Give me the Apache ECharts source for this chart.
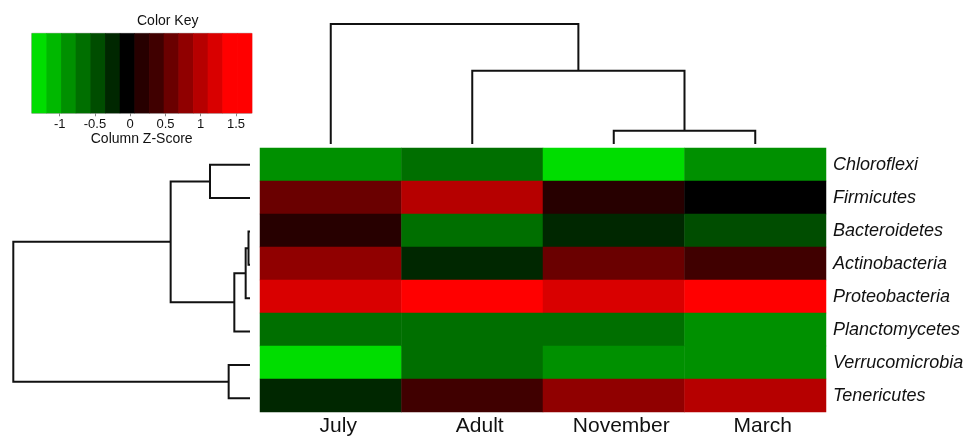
<!DOCTYPE html>
<html>
<head>
<meta charset="utf-8">
<script src="https://cdn.jsdelivr.net/npm/echarts@6/dist/echarts.min.js"></script>
<style>html,body{margin:0;padding:0;background:#fff}#c{width:968px;height:437px}</style>
</head>
<body>
<div id="c"></div>
<script>
// ---- data ----
const months = ['July', 'Adult', 'November', 'March'];
const phyla = ['Chloroflexi', 'Firmicutes', 'Bacteroidetes', 'Actinobacteria', 'Proteobacteria', 'Planctomycetes', 'Verrucomicrobia', 'Tenericutes'];
// column z-scores, one array per column, in phyla order
const zJuly     = [-0.88, 0.58, 0.16, 0.78, 1.20, -0.67, -1.30, -0.26];
const zAdult    = [-0.67, 0.99, -0.70, -0.25, 1.60, -0.66, -0.68, 0.37];
const zNovember = [-1.30, 0.16, -0.26, 0.58, 1.20, -0.67, -0.88, 0.78];
const zMarch    = [-0.88, -0.05, -0.46, 0.37, 1.50, -0.88, -0.88, 0.99];
// color key
const keyBreaks = [-1.397, -1.189, -0.981, -0.773, -0.565, -0.357, -0.149, 0.059, 0.267, 0.475, 0.683, 0.891, 1.099, 1.307, 1.515, 1.723];
const keyColors = ['#00dd00', '#00b800', '#009000', '#006f00', '#004d00', '#002700', '#000000', '#270000', '#400000', '#6a0000', '#900000', '#b60000', '#d90000', '#ff0000', '#ff0000'];
const keyTicks = [-1, -0.5, 0, 0.5, 1, 1.5];
// dendrograms (hclust style: negative = leaf number in display order, positive = earlier merge), height
const colMerges = [[-3, -4, 1.0], [-2, 1, 5.5], [-1, 2, 9.0]];
const rowMerges = [[-3, -4, 0.09], [1, -5, 0.26], [2, -6, 0.94], [-7, -8, 1.28], [-1, -2, 2.40], [5, 3, 4.76], [6, 4, 14.2]];

// ---- build ----
const zCols = [zJuly, zAdult, zNovember, zMarch];
const heatData = [];
zCols.forEach((col, i) => col.forEach((v, j) => heatData.push([i, j, v])));

function dendro(merges) {
  const nodes = [];
  const get = (k) => k < 0 ? [-k - 1, 0] : nodes[k - 1];
  merges.forEach(m => {
    const l = get(m[0]), r = get(m[1]);
    nodes.push([(l[0] + r[0]) / 2, m[2], l[0], l[1], r[0], r[1]]);
  });
  return nodes;
}
const colNodes = dendro(colMerges);
const rowNodes = dendro(rowMerges);

const keyData = keyColors.map((c, i) => [keyBreaks[i], keyBreaks[i + 1], (keyBreaks[i] + keyBreaks[i + 1]) / 2]);
const pieces = keyColors.map((c, i) => (i === keyColors.length - 1
  ? { gte: keyBreaks[i], lte: keyBreaks[i + 1], color: c }
  : { gte: keyBreaks[i], lt: keyBreaks[i + 1], color: c }));

const FONT = 'Liberation Sans, Arial, sans-serif';
const lineStyle = { stroke: '#111', lineWidth: 2, fill: null };

const chart = echarts.init(document.getElementById('c'), null, { renderer: 'canvas' });
chart.setOption({
  animation: false,
  backgroundColor: '#fff',
  textStyle: { fontFamily: FONT },
  graphic: [{
    type: 'text', left: 137, top: 14,
    style: { text: 'Color Key', font: '14px ' + FONT, fill: '#111', textAlign: 'center' }
  }],
  grid: [
    { left: 260, top: 148, width: 566, height: 267 },    // heatmap
    { left: 31.7, top: 33.3, width: 220, height: 80, show: true, borderColor: '#aaa', borderWidth: 1, backgroundColor: 'transparent' },   // key
    { left: 260, top: 24, width: 566, height: 120 },     // column dendrogram
    { left: 13.3, top: 148, width: 236.7, height: 267 }  // row dendrogram
  ],
  xAxis: [
    { type: 'category', data: months, gridIndex: 0, position: 'bottom',
      axisLine: { show: false }, axisTick: { show: false }, splitLine: { show: false },
      axisLabel: { fontSize: 21, color: '#111', margin: 4, padding: [0, 0, 0, 15], fontFamily: FONT } },
    { type: 'value', gridIndex: 1, min: keyBreaks[0], max: keyBreaks[keyBreaks.length - 1],
      axisLine: { show: false }, splitLine: { show: false },
      axisTick: { show: true, customValues: keyTicks, length: 3, lineStyle: { color: '#888', width: 1 } },
      axisLabel: { customValues: keyTicks, fontSize: 13, color: '#111', margin: 5, fontFamily: FONT, showMinLabel: true, showMaxLabel: true },
      name: 'Column Z-Score', nameLocation: 'middle', nameGap: 18,
      nameTextStyle: { fontSize: 14, color: '#111', fontFamily: FONT } },
    { type: 'value', gridIndex: 2, min: -0.5, max: 3.5, show: false },
    { type: 'value', gridIndex: 3, min: 0, max: 14.2, inverse: true, show: false }
  ],
  yAxis: [
    { type: 'category', data: phyla, gridIndex: 0, inverse: true, position: 'right',
      axisLine: { show: false }, axisTick: { show: false }, splitLine: { show: false },
      axisLabel: { fontSize: 18, fontStyle: 'italic', color: '#111', margin: 7, fontFamily: FONT, padding: [3, 0, 0, 0] } },
    { type: 'value', gridIndex: 1, min: 0, max: 1, show: false },
    { type: 'value', gridIndex: 2, min: 0, max: 9.0, show: false },
    { type: 'value', gridIndex: 3, min: -0.5, max: 7.5, inverse: true, show: false }
  ],
  visualMap: {
    type: 'piecewise', show: false, dimension: 2, seriesIndex: [0, 1], pieces: pieces
  },
  series: [
    { type: 'heatmap', xAxisIndex: 0, yAxisIndex: 0, data: heatData, itemStyle: { borderWidth: 0 } },
    { type: 'custom', xAxisIndex: 1, yAxisIndex: 1, data: keyData, encode: { x: [0, 1] }, clip: false,
      renderItem: function (params, api) {
        const p0 = api.coord([api.value(0), 1]);
        const p1 = api.coord([api.value(1), 0]);
        return { type: 'rect', shape: { x: p0[0], y: p0[1], width: p1[0] - p0[0] + 0.6, height: p1[1] - p0[1] },
          style: { fill: api.visual('color') } };
      } },
    { type: 'custom', xAxisIndex: 2, yAxisIndex: 2, data: colNodes, clip: false, encode: { x: 0, y: 1 },
      renderItem: function (params, api) {
        const pts = [
          api.coord([api.value(2), api.value(3)]),
          api.coord([api.value(2), api.value(1)]),
          api.coord([api.value(4), api.value(1)]),
          api.coord([api.value(4), api.value(5)])
        ];
        return { type: 'polyline', shape: { points: pts }, style: lineStyle };
      } },
    { type: 'custom', xAxisIndex: 3, yAxisIndex: 3, data: rowNodes, clip: false, encode: { x: 1, y: 0 },
      renderItem: function (params, api) {
        const pts = [
          api.coord([api.value(3), api.value(2)]),
          api.coord([api.value(1), api.value(2)]),
          api.coord([api.value(1), api.value(4)]),
          api.coord([api.value(5), api.value(4)])
        ];
        return { type: 'polyline', shape: { points: pts }, style: lineStyle };
      } }
  ]
});
</script>
</body>
</html>
